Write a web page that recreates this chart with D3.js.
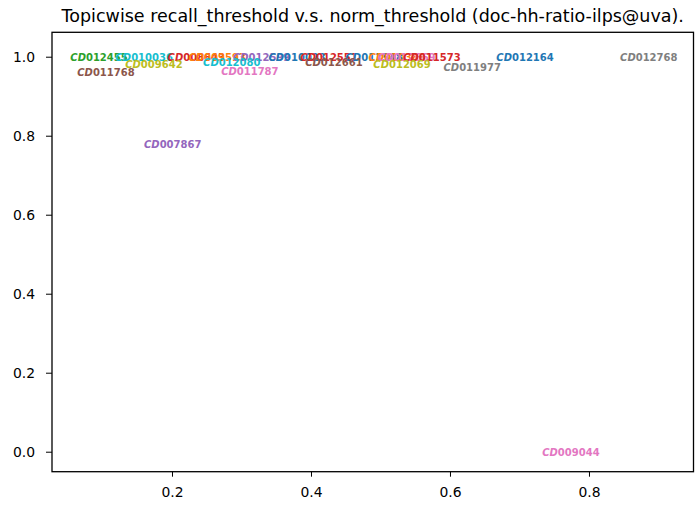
<!DOCTYPE html>
<html>
<head>
<meta charset="utf-8">
<script src="https://cdn.jsdelivr.net/npm/d3@7"></script>
<style>
  body { margin: 0; background: #fff; }
  text { font-family: "DejaVu Sans", sans-serif; }
</style>
</head>
<body>
<svg width="696" height="506"></svg>
<script>
// topic labels with their (norm_threshold, recall_threshold) positions
let topics = ["CD012455", "CD010036", "CD008643", "CD009593", "CD012599", "CD010023",
  "CD012551", "CD011548", "CD010386", "CD012669", "CD011573", "CD012164", "CD012768",
  "CD011768", "CD009642", "CD012080", "CD011787", "CD012661", "CD012069", "CD011977",
  "CD007867", "CD009044"];
let normThr = [0.095, 0.160, 0.235, 0.265, 0.329, 0.380,
  0.426, 0.491, 0.524, 0.538, 0.574, 0.708, 0.886,
  0.105, 0.174, 0.286, 0.312, 0.433, 0.531, 0.632,
  0.201, 0.774];
let recallThr = [1.0, 1.0, 1.0, 1.0, 1.0, 1.0,
  1.0, 1.0, 1.0, 1.0, 1.0, 1.0, 1.0,
  0.961, 0.981, 0.987, 0.963, 0.987, 0.981, 0.973,
  0.779, 0.0];
let colors = ["#2ca02c", "#17becf", "#d62728", "#ff7f0e", "#9467bd", "#1f77b4",
  "#d62728", "#1f77b4", "#ff7f0e", "#e377c2", "#d62728", "#1f77b4", "#7f7f7f",
  "#8c564b", "#bcbd22", "#17becf", "#e377c2", "#8c564b", "#bcbd22", "#7f7f7f",
  "#9467bd", "#e377c2"];
let xTicks = [0.2, 0.4, 0.6, 0.8];
let yTicks = [0.0, 0.2, 0.4, 0.6, 0.8, 1.0];
let title = "Topicwise recall_threshold v.s. norm_threshold (doc-hh-ratio-ilps@uva).";

let svg = d3.select("svg");
let mLeft = 52, mRight = 693.5, mTop = 32.3, mBottom = 471.7;

let x = d3.scaleLinear().domain([0.02734, 0.9504]).range([mLeft, mRight]);
let y = d3.scaleLinear().domain([-0.0506, 1.0618]).range([mBottom, mTop]);

let points = topics.map((t, i) => ({id: t, x: normThr[i], y: recallThr[i], c: colors[i]}));

let labels = svg.append("g")
  .selectAll("text")
  .data(points)
  .enter().append("text")
  .attr("x", d => x(d.x))
  .attr("y", d => y(d.y))
  .attr("text-anchor", "middle")
  .attr("dominant-baseline", "central")
  .attr("font-size", 10)
  .attr("font-weight", "bold")
  .attr("fill", d => d.c);
labels.append("tspan").attr("font-style", "italic").text(d => d.id.slice(0, 2));
labels.append("tspan").text(d => d.id.slice(2));

// frame
svg.append("rect")
  .attr("x", mLeft).attr("y", mTop)
  .attr("width", mRight - mLeft).attr("height", mBottom - mTop)
  .attr("fill", "none").attr("stroke", "#000").attr("stroke-width", 1.3);

let xAxis = svg.append("g")
  .attr("transform", `translate(0,${mBottom})`)
  .call(d3.axisBottom(x).tickValues(xTicks).tickFormat(d3.format(".1f")).tickSize(5).tickPadding(10));
let yAxis = svg.append("g")
  .attr("transform", `translate(${mLeft},0)`)
  .call(d3.axisLeft(y).tickValues(yTicks).tickFormat(d3.format(".1f")).tickSize(6).tickPadding(11));
[xAxis, yAxis].forEach(a => {
  a.select(".domain").remove();
  a.selectAll(".tick line").attr("stroke", "#000").attr("stroke-width", 1);
  a.selectAll(".tick text").attr("font-family", "DejaVu Sans").attr("font-size", 13.9).attr("fill", "#000");
});

svg.append("text")
  .attr("x", (mLeft + mRight) / 2)
  .attr("y", 22)
  .attr("text-anchor", "middle")
  .attr("font-size", 17.5)
  .text(title);
</script>
</body>
</html>
